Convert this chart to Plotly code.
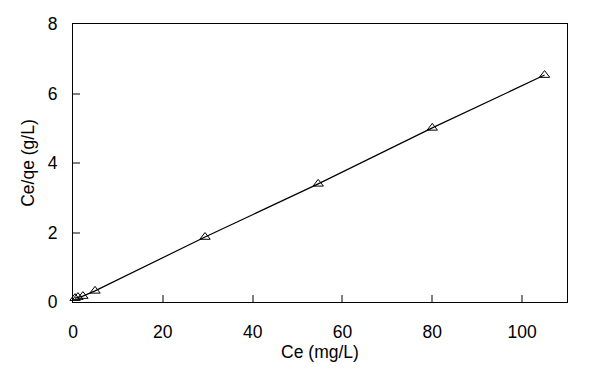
import plotly.graph_objects as go

ce = [0.45, 1.1, 2.2, 4.9, 29.4, 54.6, 80.0, 105.0]
ce_qe = [0.11, 0.14, 0.17, 0.32, 1.87, 3.40, 5.01, 6.53]

x_ticks = [0, 20, 40, 60, 80, 100]
y_ticks = [0, 2, 4, 6, 8]

fig = go.Figure()
fig.add_trace(go.Scatter(
    x=ce, y=ce_qe, mode="lines+markers",
    line=dict(color="black", width=1.2),
    marker=dict(symbol="triangle-up-open", size=9, color="black", line=dict(width=1)),
    showlegend=False, cliponaxis=False,
))

font_family = "Liberation Sans, Arial, sans-serif"
fig.update_layout(
    width=596, height=375,
    margin=dict(l=65, r=37, t=16, b=81, autoexpand=False),
    paper_bgcolor="white", plot_bgcolor="white",
    font=dict(family=font_family, color="black"),
)
fig.update_xaxes(
    range=[0, 110], tickvals=x_ticks, ticks="inside", ticklen=7, tickwidth=2,
    tickcolor="#808080", showline=True, linecolor="black", linewidth=1, mirror=True,
    showgrid=False, zeroline=False, tickfont=dict(size=17.5), ticklabelstandoff=14,
    automargin=False,
    title=dict(text="Ce (mg/L)", font=dict(size=17.5), standoff=4),
)
fig.update_yaxes(
    range=[0, 8], tickvals=y_ticks, ticks="inside", ticklen=7, tickwidth=2,
    tickcolor="#808080", showline=True, linecolor="black", linewidth=1, mirror=True,
    showgrid=False, zeroline=False, tickfont=dict(size=17.5), ticklabelstandoff=11,
    automargin=False,
    title=dict(text="Ce/qe (g/L)", font=dict(size=17.5), standoff=8),
)
fig.write_html("out.html")
